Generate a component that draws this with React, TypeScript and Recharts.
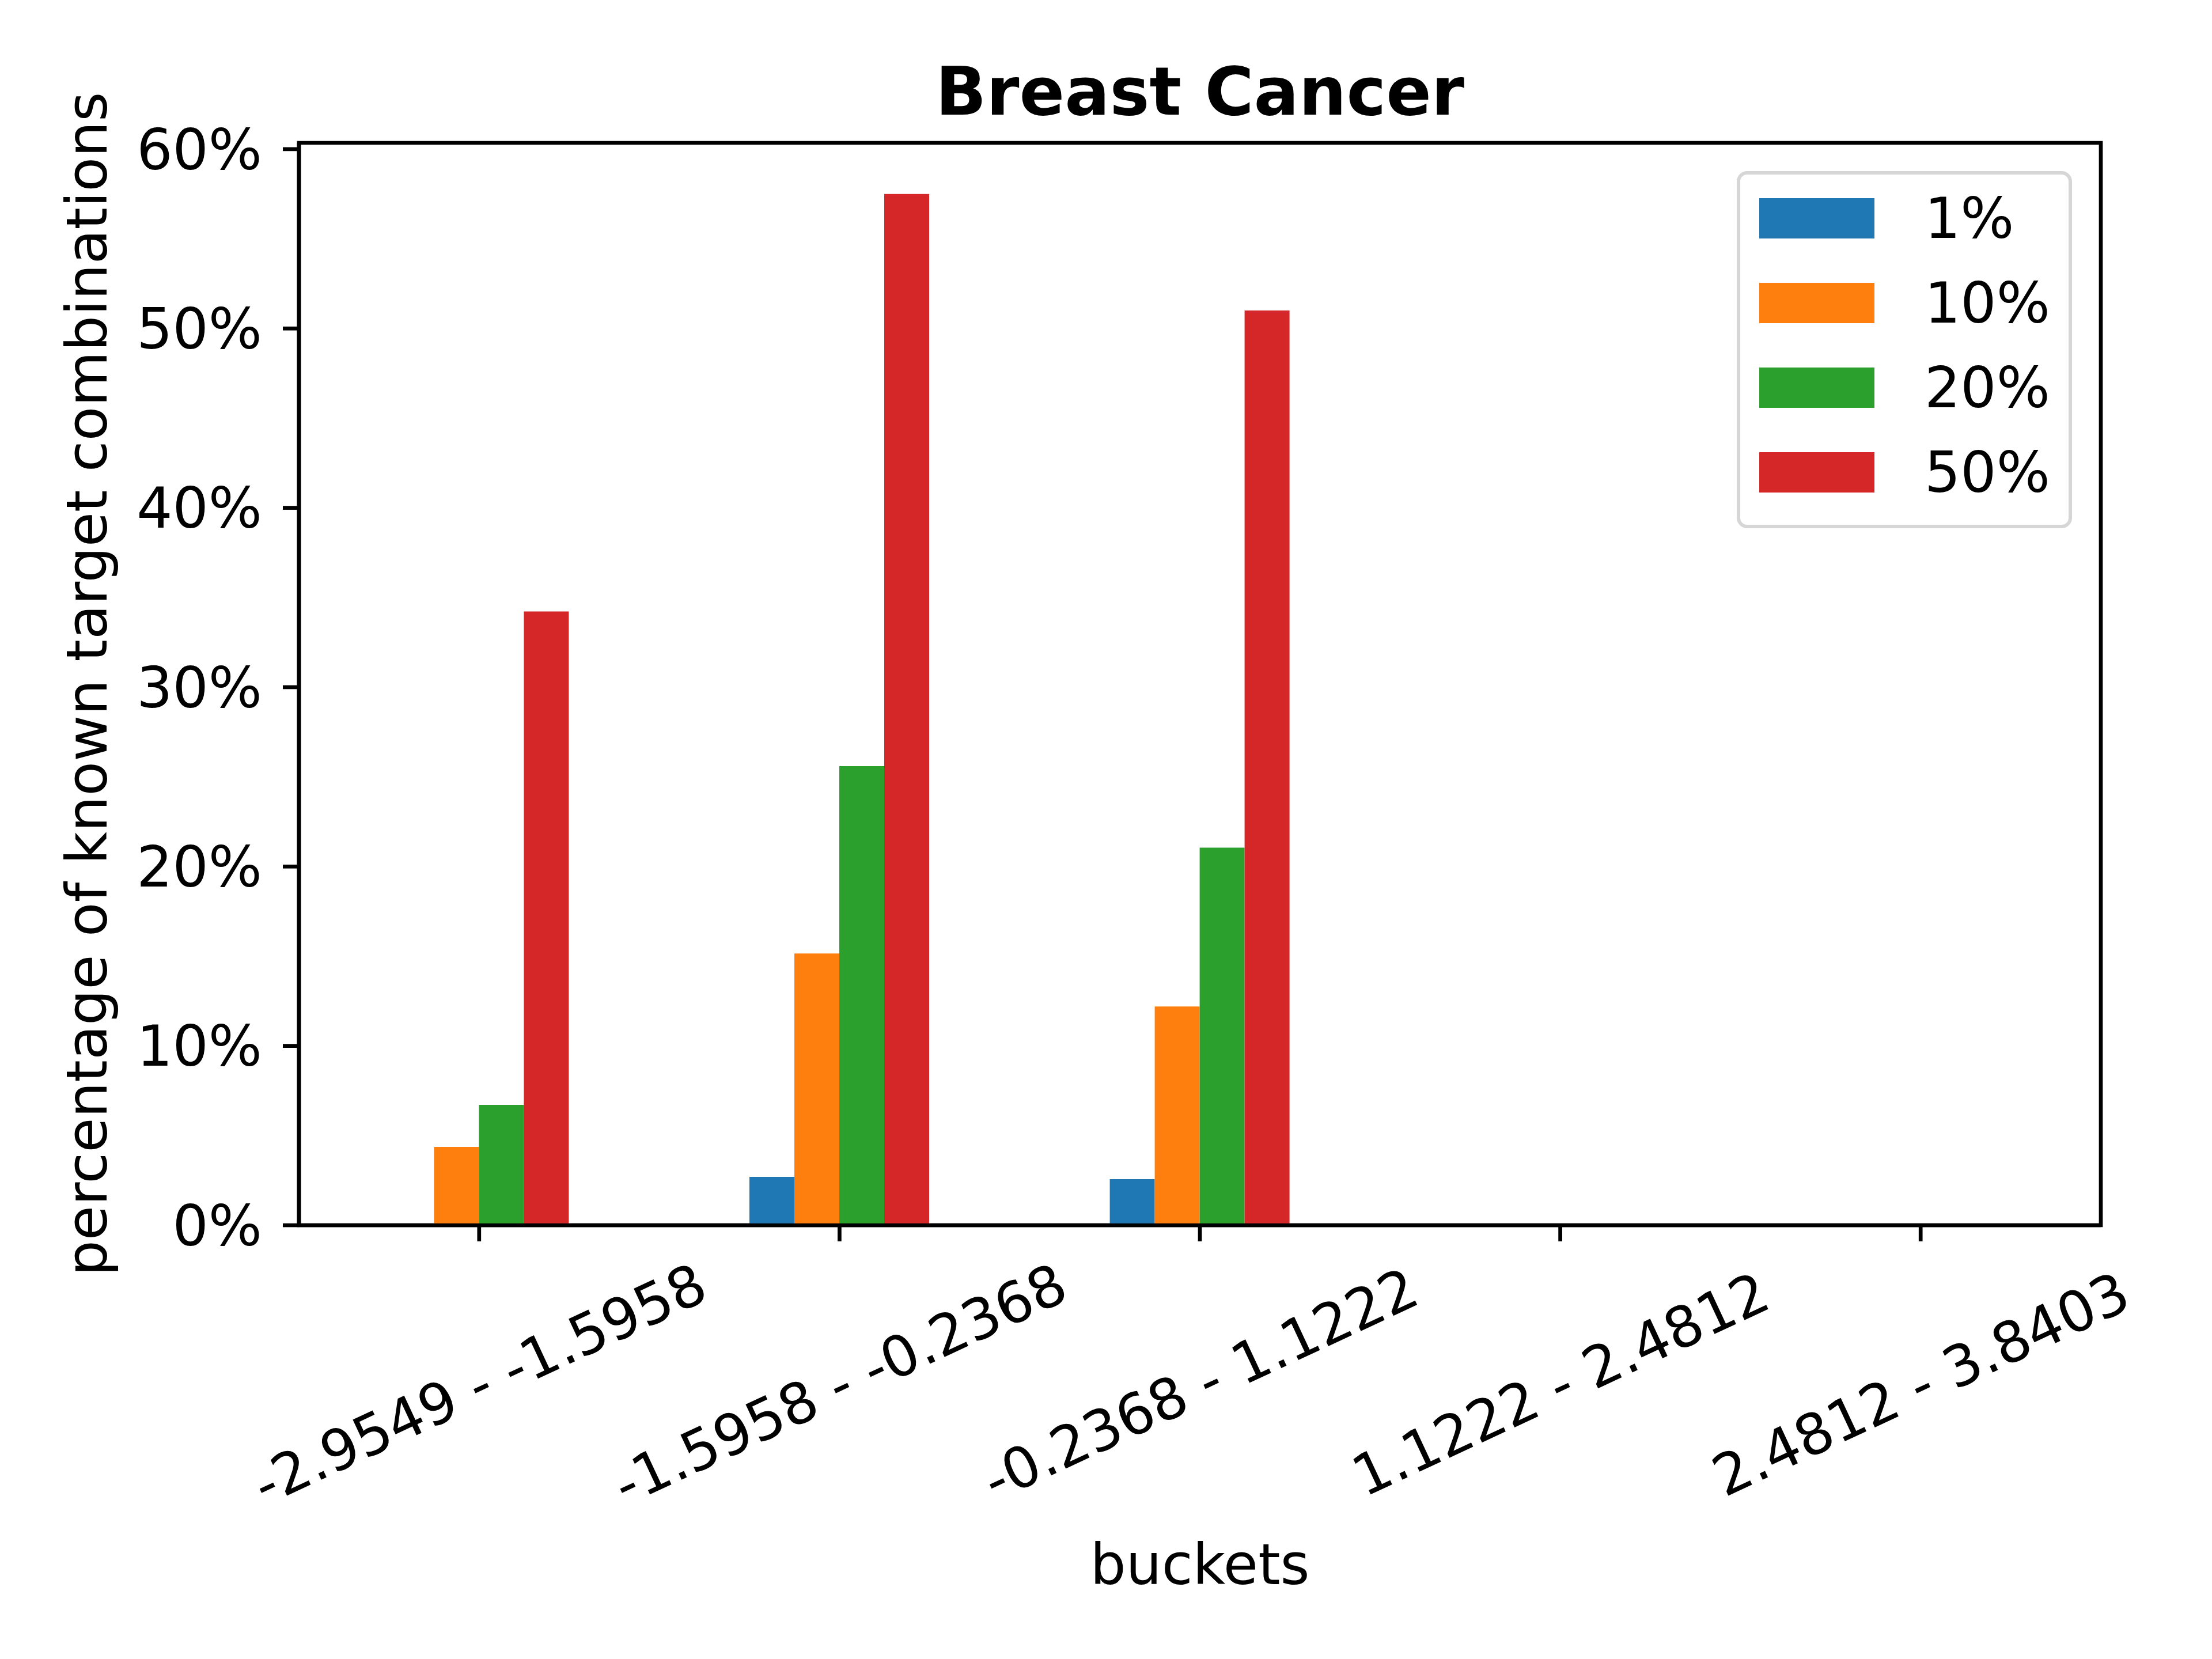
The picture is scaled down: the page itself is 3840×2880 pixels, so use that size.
import { BarChart, Bar, XAxis, YAxis, Legend, Label, ReferenceArea } from 'recharts';

const buckets = [
  '-2.9549 - -1.5958',
  '-1.5958 - -0.2368',
  '-0.2368 - 1.1222',
  '1.1222 - 2.4812',
  '2.4812 - 3.8403',
];
const pct1 = [0, 2.7, 2.57, 0, 0];
const pct10 = [4.37, 15.15, 12.2, 0, 0];
const pct20 = [6.71, 25.6, 21.05, 0, 0];
const pct50 = [34.22, 57.5, 51.0, 0, 0];
const yTicks = [0, 10, 20, 30, 40, 50, 60];
const yMax = 60.35;

const series = [
  { key: 'p1', name: '1%', color: '#1f77b4' },
  { key: 'p10', name: '10%', color: '#ff7f0e' },
  { key: 'p20', name: '20%', color: '#2ca02c' },
  { key: 'p50', name: '50%', color: '#d62728' },
];

const data = buckets.map((bucket, i) => ({
  bucket,
  p1: pct1[i],
  p10: pct10[i],
  p20: pct20[i],
  p50: pct50[i],
}));

const FONT = '"DejaVu Sans", sans-serif';
const LINE = 6.7;

function BucketTick({ x, y, payload }: any) {
  const cy = y + 247;
  return (
    <text
      x={x}
      y={cy}
      dy="0.36em"
      textAnchor="middle"
      transform={`rotate(-25, ${x}, ${cy})`}
      fontSize={98}
      fontFamily={FONT}
      fill="#000"
    >
      {payload.value}
    </text>
  );
}

function YTitle({ viewBox }: any) {
  const cx = viewBox.x + 185;
  const cy = viewBox.y + viewBox.height / 2;
  return (
    <text
      x={cx}
      y={cy}
      textAnchor="middle"
      transform={`rotate(-90, ${cx}, ${cy})`}
      fontSize={98}
      fontFamily={FONT}
      fill="#000"
    >
      percentage of known target combinations
    </text>
  );
}

function XTitle({ viewBox }: any) {
  return (
    <text
      x={viewBox.x + viewBox.width / 2}
      y={viewBox.y + 623}
      textAnchor="middle"
      fontSize={98}
      fontFamily={FONT}
      fill="#000"
    >
      buckets
    </text>
  );
}

// sits on the plot frame, so its viewBox is the plot area
function ChartTitle({ viewBox }: any) {
  return (
    <text
      x={viewBox.x + viewBox.width / 2}
      y={viewBox.y - 49}
      textAnchor="middle"
      fontSize={116}
      fontWeight="bold"
      fontFamily={FONT}
      fill="#000"
    >
      Breast Cancer
    </text>
  );
}

function LegendBox() {
  return (
    <div
      style={{
        boxSizing: 'border-box',
        width: 582,
        height: 620,
        border: `${LINE}px solid #d6d6d6`,
        borderRadius: 18,
        background: 'rgba(255,255,255,0.8)',
        paddingTop: 2,
        fontFamily: FONT,
        fontSize: 98,
        color: '#000',
      }}
    >
      {series.map((s) => (
        <div key={s.key} style={{ height: 147, display: 'flex', alignItems: 'center' }}>
          <div style={{ width: 200, height: 70, marginLeft: 33, background: s.color }} />
          <span style={{ marginLeft: 87, lineHeight: 1 }}>{s.name}</span>
        </div>
      ))}
    </div>
  );
}

export default function App() {
  return (
    <div style={{ width: 3840, height: 2880, background: '#fff' }}>
      <style>{'body{margin:0}'}</style>
      <BarChart
        width={3840}
        height={2880}
        data={data}
        margin={{ top: 248, right: 193, left: 0, bottom: 0 }}
        barCategoryGap="25%"
        barGap={0}
      >
        <XAxis
          dataKey="bucket"
          height={753}
          interval={0}
          tickSize={28}
          tickMargin={0}
          tickLine={{ stroke: '#000', strokeWidth: LINE }}
          axisLine={{ stroke: '#000', strokeWidth: LINE }}
          tick={<BucketTick />}
        >
          <Label content={<XTitle />} />
        </XAxis>
        <YAxis
          width={519}
          type="number"
          domain={[0, yMax]}
          ticks={yTicks}
          allowDataOverflow
          tickFormatter={(v: number) => `${v}%`}
          tickSize={28}
          tickMargin={36}
          tickLine={{ stroke: '#000', strokeWidth: LINE }}
          axisLine={{ stroke: '#000', strokeWidth: LINE }}
          tick={{ fill: '#000', fontSize: 98, fontFamily: FONT }}
        >
          <Label content={<YTitle />} />
        </YAxis>
        <Legend
          layout="vertical"
          align="center"
          verticalAlign="middle"
          wrapperStyle={{ left: 3015, top: 297, width: 582, height: 620 }}
          content={() => <LegendBox />}
        />
        {series.map((s) => (
          <Bar
            key={s.key}
            dataKey={s.key}
            name={s.name}
            fill={s.color}
            isAnimationActive={false}
          />
        ))}
        {/* full box around the plot, like matplotlib's four spines */}
        <ReferenceArea
          y1={0}
          y2={yMax}
          fill="none"
          fillOpacity={0}
          stroke="#000"
          strokeWidth={LINE}
          strokeOpacity={1}
          label={<ChartTitle />}
        />
      </BarChart>
    </div>
  );
}
